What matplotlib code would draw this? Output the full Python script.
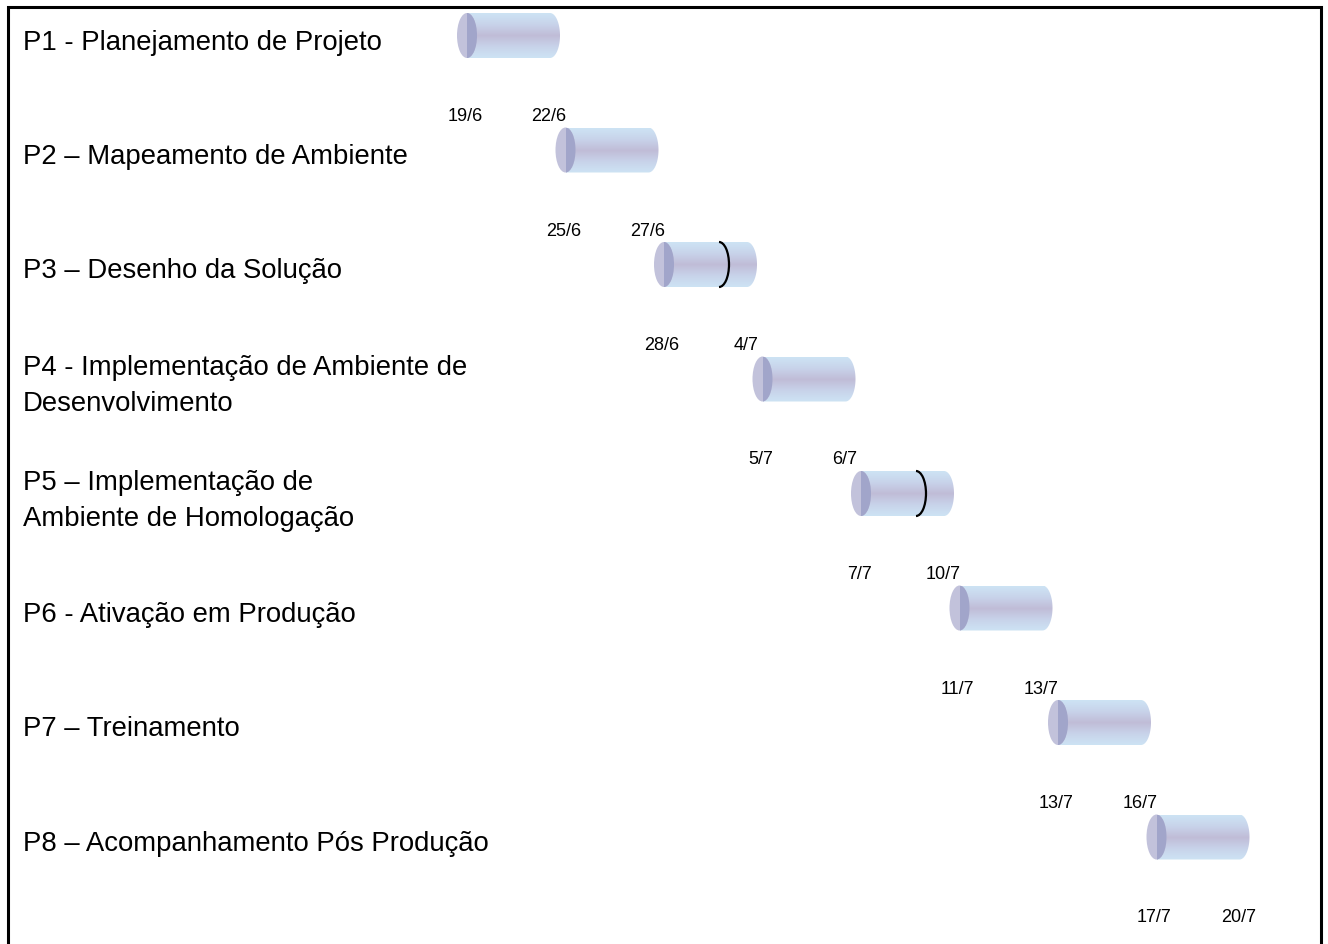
import numpy as np
import matplotlib
matplotlib.use("Agg")
import matplotlib.pyplot as plt
from matplotlib.patches import Ellipse, Polygon, Arc, Rectangle
from matplotlib.colors import LinearSegmentedColormap

# ---------------- data ----------------
tasks = [
    "P1 - Planejamento de Projeto",
    "P2 – Mapeamento de Ambiente",
    "P3 – Desenho da Solução",
    "P4 - Implementação de Ambiente de\nDesenvolvimento",
    "P5 – Implementação de\nAmbiente de Homologação",
    "P6 - Ativação em Produção",
    "P7 – Treinamento",
    "P8 – Acompanhamento Pós Produção",
]
start_dates = ["19/6", "25/6", "28/6", "5/7", "7/7", "11/7", "13/7", "17/7"]
end_dates = ["22/6", "27/6", "4/7", "6/7", "10/7", "13/7", "16/7", "20/7"]
split_marker = [False, False, True, False, True, False, False, False]

# ---------------- layout ----------------
plt.rcParams['font.family'] = ['Liberation Sans', 'DejaVu Sans']
W_PX, H_PX = 1328, 945
X0, DX = 457.0, 98.5       # staircase: bar left edge per task index
Y0, DY = 36.5, 114.5       # row centre per task index
BW, BH, RX = 103.0, 45.0, 10.0

fig = plt.figure(figsize=(W_PX / 100, H_PX / 100), dpi=100)
ax = fig.add_axes([0, 0, 1, 1])
ax.set_xlim(0, W_PX)
ax.set_ylim(H_PX, 0)
ax.axis('off')

cmap = LinearSegmentedColormap.from_list(
    'cyl', ['#cde3f4', '#c8d3ea', '#c0bcd7', '#c8d3ea', '#cde3f4'])
grad = np.linspace(0, 1, 64).reshape(-1, 1)

for i, name in enumerate(tasks):
    xl = X0 + DX * i
    yc = Y0 + DY * i
    xr = xl + BW
    top, bot = yc - BH / 2, yc + BH / 2
    xc = xl + RX

    # body outline: flat left at cap centre, rounded right end
    t = np.linspace(-np.pi / 2, np.pi / 2, 40)
    ex = (xr - RX) + RX * np.cos(t)
    ey = yc + (BH / 2) * np.sin(t)
    pts = [(xc, top)] + list(zip(ex, ey)) + [(xc, bot)]
    body = Polygon(pts, closed=True, facecolor='none', edgecolor='none',
                   transform=ax.transData)
    ax.add_patch(body)
    im = ax.imshow(grad, extent=[xc, xr, bot, top], cmap=cmap, aspect='auto',
                   interpolation='bilinear', zorder=2)
    im.set_clip_path(body)

    # left cap
    cap = Ellipse((xc, yc), 2 * RX, BH, facecolor='#c2c2db', edgecolor='none', zorder=3)
    ax.add_patch(cap)
    cap_r = Ellipse((xc, yc), 2 * RX, BH, facecolor='#a1a5ca', edgecolor='none', zorder=4)
    ax.add_patch(cap_r)
    clip = Rectangle((xc, top), RX, BH, transform=ax.transData)
    cap_r.set_clip_path(clip)

    if split_marker[i]:
        ax.add_patch(Arc((xl + 65, yc), 2 * RX, BH, theta1=-90, theta2=90,
                         color='black', lw=1.6, zorder=5))

    # date labels
    ax.text(xl + 8, yc + 80, start_dates[i], fontsize=13, ha='center', va='center')
    ax.text(xl + 92, yc + 80, end_dates[i], fontsize=13, ha='center', va='center')

    # task label
    ax.text(23, yc + 6, name, fontsize=19.8, ha='left', va='center', linespacing=1.5)

# frame
ax.plot([8, 8, 1321, 1321], [H_PX + 5, 8, 8, H_PX + 5], color='black', lw=2.2,
        solid_joinstyle='miter', zorder=6)

fig.savefig('out.png', dpi=100)
